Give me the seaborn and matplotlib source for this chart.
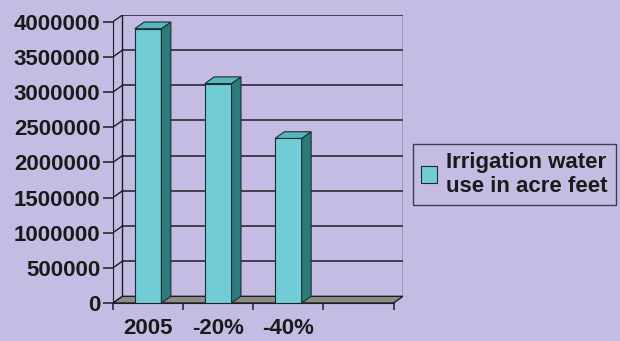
import matplotlib
matplotlib.use("Agg")
import matplotlib.pyplot as plt
from matplotlib.patches import Polygon, Patch
import seaborn as sns
import pandas as pd

# ---- data ----
categories = ["2005", "-20%", "-40%", ""]
water_use = [3900000, 3120000, 2340000, 0]
y_ticks = [0, 500000, 1000000, 1500000, 2000000, 2500000,
           3000000, 3500000, 4000000]
series_label = "Irrigation water\nuse in acre feet"

# ---- style ----
BG = "#c4bce3"
FACE = "#72ccd5"
SIDE = "#2b7b7c"
TOP = "#55b8bc"
EDGE = "#1b2e2e"
FLOOR = "#8b8c86"
LINE = "#1e1e24"
TXT = "#1a1a1a"
FS = 16
DX = 0.135      # depth offset in category units
DY = 95000      # depth offset in value units

sns.set_style("white")
plt.rcParams["font.family"] = ["Liberation Sans", "DejaVu Sans"]

df = pd.DataFrame({"cat": categories, "val": water_use})

fig = plt.figure(figsize=(6.2, 3.41), dpi=100, facecolor=BG)
ax = fig.add_axes([113 / 620, 38 / 341, 290 / 620, 288 / 341])
ax.set_facecolor("none")

sns.barplot(data=df, x="cat", y="val", order=categories, color=FACE,
            saturation=1, width=0.38, edgecolor=EDGE, linewidth=0.8,
            zorder=4, ax=ax)

n = len(categories)
x0, x1 = -0.5, n - 0.5
top = y_ticks[-1]

# floor
ax.add_patch(Polygon([(x0, 0), (x1, 0), (x1 + DX, DY), (x0 + DX, DY)],
                     closed=True, facecolor=FLOOR, edgecolor=LINE,
                     linewidth=1.0, zorder=2))

# back wall gridlines and left-wall connectors
for v in y_ticks:
    if v > 0:
        ax.plot([x0 + DX, x1 + DX], [v + DY, v + DY], color=LINE, lw=1.1, zorder=1)
    ax.plot([x0, x0 + DX], [v, v + DY], color=LINE, lw=1.0, zorder=1)
ax.plot([x0 + DX, x0 + DX], [DY, top + DY], color=LINE, lw=1.0, zorder=1)
ax.plot([x1 + DX, x1 + DX], [DY, top + DY], color=LINE, lw=1.0, zorder=1)

# 3D sides and tops of the bars
for p in ax.patches:
    if not hasattr(p, "get_width") or p.get_height() <= 0:
        continue
    bx, bw, bh = p.get_x(), p.get_width(), p.get_height()
    ax.add_patch(Polygon([(bx + bw, 0), (bx + bw + DX, DY),
                          (bx + bw + DX, bh + DY), (bx + bw, bh)],
                         closed=True, facecolor=SIDE, edgecolor=EDGE,
                         linewidth=0.8, zorder=4))
    ax.add_patch(Polygon([(bx, bh), (bx + bw, bh), (bx + bw + DX, bh + DY),
                          (bx + DX, bh + DY)],
                         closed=True, facecolor=TOP, edgecolor=EDGE,
                         linewidth=0.8, zorder=4))

ax.set_xlim(x0, x1 + DX)
ax.set_ylim(0, top + DY)

for s in ["top", "right"]:
    ax.spines[s].set_visible(False)
ax.spines["left"].set_bounds(0, top)
ax.spines["bottom"].set_bounds(x0, x1)
ax.spines["left"].set_color(LINE)
ax.spines["bottom"].set_color(LINE)
ax.spines["left"].set_zorder(3)

ax.set_yticks(y_ticks)
ax.set_yticklabels([str(v) for v in y_ticks])
ax.set_xticks([i - 0.5 for i in range(n + 1)])
ax.set_xticklabels([])
ax.set_xticks(range(n), minor=True)
ax.set_xticklabels(categories, minor=True)
ax.tick_params(axis="y", direction="out", length=7, width=1.1, color=LINE,
               labelsize=FS, pad=2, labelcolor=TXT, left=True)
ax.tick_params(axis="x", which="major", direction="out", length=5,
               width=1.1, color=LINE, bottom=True)
ax.tick_params(axis="x", which="minor", length=0, pad=11,
               labelsize=FS, labelcolor=TXT)
for lab in ax.get_yticklabels() + ax.get_xticklabels(minor=True):
    lab.set_fontweight("bold")
ax.set_xlabel("")
ax.set_ylabel("")

handle = Patch(facecolor=FACE, edgecolor=EDGE, linewidth=0.8)
leg = fig.legend([handle], [series_label], loc="upper left",
                 bbox_to_anchor=(413 / 620, 1 - 144 / 341),
                 borderaxespad=0, frameon=True, fancybox=False,
                 handlelength=0.75, handleheight=0.75, handletextpad=0.4,
                 borderpad=0.35, labelspacing=0.2,
                 prop={"weight": "bold", "size": FS})
for t in leg.get_texts():
    t.set_color(TXT)
leg.get_frame().set_facecolor("none")
leg.get_frame().set_edgecolor(LINE)
leg.get_frame().set_linewidth(1.0)

fig.savefig("out.png", dpi=100, facecolor=BG)
